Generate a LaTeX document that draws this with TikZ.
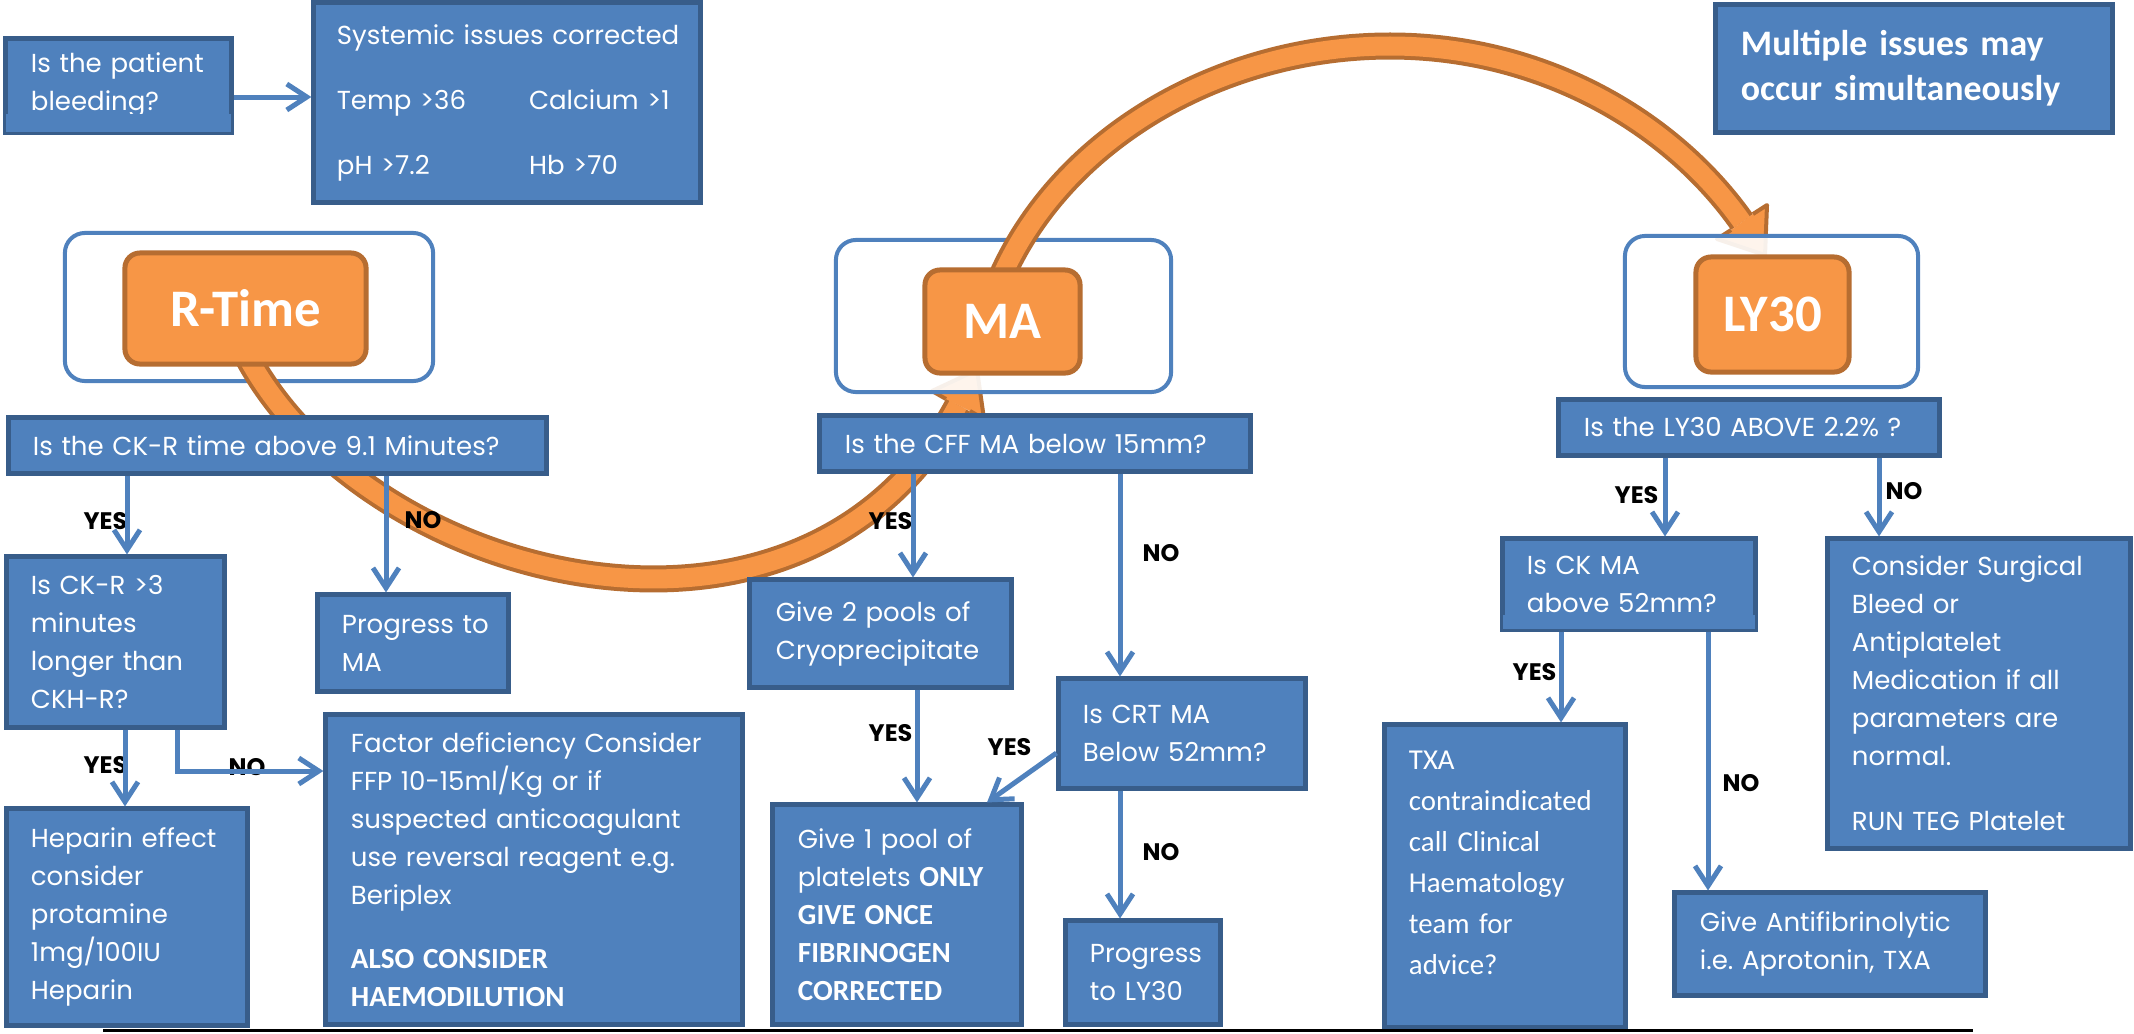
\documentclass[tikz,border=0pt]{standalone}
\usepackage{fontspec}
\setmainfont{Poppins}
\newfontfamily\calib{Carlito}
\usetikzlibrary{arrows.meta,calc}
\definecolor{bfill}{HTML}{4F81BD}
\definecolor{bdraw}{HTML}{385D8A}
\definecolor{ofill}{HTML}{F79646}
\definecolor{odraw}{HTML}{B66D31}
\newcommand{\txt}{\fontsize{7.4}{10.8}\selectfont}
\newcommand{\bcal}{\calib\bfseries\fontsize{8.3}{10.8}\selectfont}
\begin{document}
\begin{tikzpicture}[x=0.01cm,y=-0.01cm,
  bbox/.style={draw=bdraw, fill=bfill, line width=0.05cm, text=white, inner sep=0pt, align=left, font=\txt},
  ob/.style={draw=bfill, line width=0.04cm, rounded corners=0.2cm, fill=white, fill opacity=0.9, draw opacity=1, inner sep=0pt},
  ot/.style={draw=odraw, fill=ofill, line width=0.05cm, rounded corners=0.15cm, text=white, inner sep=0pt, font=\calib\bfseries\fontsize{15}{18}\selectfont},
  arr/.style={draw=bfill, line width=0.05cm, -{Straight Barb[length=0.2cm, width=0.26cm]}},
  lbl/.style={font=\bfseries\fontsize{6.8}{8}\selectfont, inner sep=0pt, anchor=base west},
  band/.style={draw=odraw, line width=0.04cm, double=ofill, double distance=0.19cm},
  headl/.style={draw=odraw, line width=0.04cm, line join=round},
]
\useasboundingbox (0,0) rectangle (2134,1033);

% top row
\node[bbox, minimum width=2.25cm, minimum height=0.93cm, text width=1.75cm] (patient) at (118.5,85.5) {Is the patient\\bleeding?};
\fill[bfill] ($(patient.south west)+(3,-21)$) rectangle ($(patient.south east)+(-3,-2.6)$);
\node[bbox, minimum width=3.86cm, minimum height=1.99cm, text width=3.40cm] (sys) at (507,102.5)
  {\mbox{Systemic issues corrected}\\[0.27cm]\makebox[1.92cm][l]{Temp >36}\mbox{Calcium >1}\\[0.27cm]\makebox[1.92cm][l]{pH >7.2}\mbox{Hb >70}};
\node[bbox, font=\calib\bfseries\fontsize{10.2}{12.8}\selectfont, minimum width=3.96cm, minimum height=1.27cm, text width=3.46cm] (multi) at (1914,68.5) {Multiple issues may\\occur simultaneously};

% outer boxes and orange arcs
\node[ob, minimum width=3.68cm, minimum height=1.48cm] (rto) at (249,307) {};
\coordinate (a1s) at (239,340);
\coordinate (a1e) at (958,405);
\draw[band] (a1s) .. controls (350,580) and (800,700) .. (a1e);
\fill[ofill] (946,399) -- (932,391) -- (977,370) -- (984,419) -- (970,411) -- cycle;
\draw[headl] (946,399) -- (932,391) -- (977,370) -- (984,419) -- (970,411);
\node[ob, minimum width=3.35cm, minimum height=1.52cm] (mao) at (1003.5,316) {};
\coordinate (a2s) at (996,290);
\coordinate (a2m) at (1390,46);
\coordinate (a2e) at (1742,222);
\draw[band] (a2s) .. controls (1055,140) and (1220,46) .. (a2m) .. controls (1540,46) and (1670,120) .. (a2e);
\fill[ofill] (1731,230) -- (1717,239) -- (1765,255) -- (1767,205) -- (1753,214) -- cycle;
\draw[headl] (1731,230) -- (1717,239) -- (1765,255) -- (1767,205) -- (1753,214);
\node[ob, minimum width=2.93cm, minimum height=1.51cm] (lyo) at (1771.5,311.5) {};

\node[ot, minimum width=2.41cm, minimum height=1.11cm] (rt) at (245.5,308.5) {R-Time};
\node[ot, minimum width=1.55cm, minimum height=1.03cm] (ma) at (1002.5,321.5) {MA};
\node[ot, minimum width=1.53cm, minimum height=1.15cm] (ly) at (1772.5,314.5) {LY30};

% question boxes
\node[bbox, minimum width=5.37cm, minimum height=0.55cm, text width=4.89cm] (ckrq) at (277.5,445.5) {Is the CK-R time above 9.1 Minutes?};
\node[bbox, minimum width=4.30cm, minimum height=0.55cm, text width=3.80cm] (cffq) at (1035,443.5) {Is the CFF MA below 15mm?};
\node[bbox, minimum width=3.80cm, minimum height=0.55cm, text width=3.30cm] (lyq) at (1749,427.5) {Is the LY30 ABOVE 2.2\%~?};

% R-time column
\node[bbox, minimum width=2.17cm, minimum height=1.70cm, text width=1.69cm] (ckr3) at (115.5,642) {Is CK-R >3\\minutes\\longer~than\\CKH-R?};
\node[bbox, minimum width=1.90cm, minimum height=0.96cm, text width=1.42cm] (progma) at (413,643) {Progress~to\\MA};
\node[bbox, minimum width=2.40cm, minimum height=2.16cm, text width=1.92cm] (hep) at (127,917) {Heparin~effect\\consider\\protamine\\1mg/100IU\\Heparin};
\node[bbox, minimum width=4.16cm, minimum height=3.09cm, text width=3.66cm] (factor) at (534,869.5)
  {Factor~deficiency~Consider\\FFP~10-15ml/Kg~or~if\\suspected~anticoagulant\\use~reversal~reagent~e.g.\\Beriplex\\[0.26cm]{\bcal ALSO CONSIDER}\\{\bcal HAEMODILUTION}};

% MA column
\node[bbox, minimum width=2.61cm, minimum height=1.07cm, text width=2.09cm] (give2) at (880.5,633.5) {Give~2~pools~of\\Cryoprecipitate};
\node[bbox, minimum width=2.46cm, minimum height=1.09cm, text width=1.98cm] (crt) at (1182,733.5) {Is CRT MA\\Below~52mm?};
\node[bbox, minimum width=2.48cm, minimum height=2.19cm, text width=1.98cm] (give1) at (897,914.5)
  {Give~1~pool~of\\platelets~{\bcal ONLY}\\{\bcal GIVE~ONCE}\\{\bcal FIBRINOGEN}\\{\bcal CORRECTED}};
\node[bbox, minimum width=1.54cm, minimum height=1.03cm, text width=1.06cm] (proly) at (1143,972.5) {Progress\\to~LY30};

% LY30 column
\node[bbox, minimum width=2.52cm, minimum height=0.90cm, text width=2.04cm] (ckma) at (1629,584) {Is CK MA\\above~52mm?};
\fill[bfill] ($(ckma.south west)+(3,-17)$) rectangle ($(ckma.south east)+(-3,-2.6)$);
\node[bbox, minimum width=3.02cm, minimum height=3.09cm, text width=2.54cm] (consider) at (1979,693.5)
  {Consider~Surgical\\Bleed~or\\Antiplatelet\\Medication~if~all\\parameters~are\\normal.\\[0.27cm]RUN~TEG~Platelet};
\node[bbox, font=\calib\fontsize{8.2}{11.67}\selectfont, minimum width=2.40cm, minimum height=3.02cm, text width=1.92cm] (txa) at (1505,876)
  {TXA\\contraindicated\\call~Clinical\\Haematology\\team~for\\advice?\\[-0.15cm]\mbox{}};
\node[bbox, minimum width=3.10cm, minimum height=1.02cm, text width=2.60cm] (antifib) at (1830,944) {Give~Antifibrinolytic\\i.e.~Aprotonin,~TXA};

% labels
\node[lbl] (l1) at (83,529) {YES};
\node[lbl] (l2) at (404,528) {NO};
\node[lbl] (l3) at (83,773) {YES};
\node[lbl] (l4) at (228,775) {NO};
\node[lbl] (l5) at (868,529) {YES};
\node[lbl] (l6) at (1142,561) {NO};
\node[lbl] (l7) at (868,741) {YES};
\node[lbl] (l8) at (987,755) {YES};
\node[lbl] (l9) at (1142,860) {NO};
\node[lbl] (l10) at (1614,503) {YES};
\node[lbl] (l11) at (1885,499) {NO};
\node[lbl] (l12) at (1512,680) {YES};
\node[lbl] (l13) at (1722,791) {NO};

% connectors
\draw[arr] (patient.east |- 0,97) -- (sys.west |- 0,97);
\draw[arr] (ckrq.south -| 127,0) -- (ckr3.north -| 127,0);
\draw[arr] (ckrq.south -| 386,0) -- (progma.north -| 386,0);
\draw[arr] (ckr3.south -| 125,0) -- (hep.north -| 125,0);
\draw[arr] (ckr3.south -| 177,0) |- (factor.west |- 0,771);
\draw[arr] (cffq.south -| 913,0) -- (give2.north -| 913,0);
\draw[arr] (cffq.south -| 1120,0) -- (crt.north -| 1120,0);
\draw[arr] (give2.south -| 917,0) -- (give1.north -| 917,0);
\draw[arr] (crt.west |- 0,753) -- (give1.north -| 987,0);
\draw[arr] (crt.south -| 1120,0) -- (proly.north -| 1120,0);
\draw[arr] (lyq.south -| 1665,0) -- (ckma.north -| 1665,0);
\draw[arr] (lyq.south -| 1879,0) -- (consider.north -| 1879,0);
\draw[arr] (ckma.south -| 1561,0) -- (txa.north -| 1561,0);
\draw[arr] (ckma.south -| 1708,0) -- (antifib.north -| 1708,0);

% bottom rule
\coordinate (bl1) at (103,1030);
\coordinate (bl2) at (1973,1030);
\draw[line width=0.03cm] (bl1) -- (bl2);
\end{tikzpicture}
\end{document}
